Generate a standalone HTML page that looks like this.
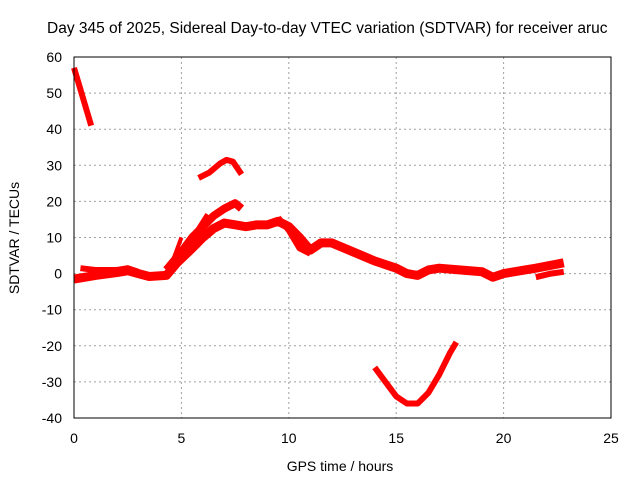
<!DOCTYPE html>
<html><head><meta charset="utf-8"><style>body{margin:0;background:#fff}svg{display:block}text{font-family:"Liberation Sans",sans-serif;font-size:14px;fill:#000}</style></head>
<body>
<svg id="c" width="640" height="480">
<text x="47" y="33" style="font-size:15.5px">Day 345 of 2025, Sidereal Day-to-day VTEC variation (SDTVAR) for receiver aruc</text>
<text x="340" y="471" text-anchor="middle">GPS time / hours</text>
<text transform="translate(19,238) rotate(-90)" text-anchor="middle">SDTVAR / TECUs</text>
<g id="grid"></g><g id="ticks"></g><g id="series"></g>
<rect x="74" y="57" width="537" height="361" fill="none" stroke="#000" stroke-width="1"/>
</svg>
<script>
const xTicks=[0,5,10,15,20,25];
const yTicks=[60,50,40,30,20,10,0,-10,-20,-30,-40];
const seriesA=[[0,57],[0.2,53],[0.5,47],[0.8,41]];
const seriesB=[[5.8,26.5],[6.3,28],[6.8,30.5],[7.1,31.5],[7.4,31],[7.8,27.5]];
const seriesC1=[[0,-1.5],[1,-0.5],[2,0.3],[2.5,0.8],[3,0],[3.5,-0.8],[4.3,-0.5],[4.8,3],[5.5,7],[6,10],[6.5,12.5],[7,14],[7.5,13.5],[8,13],[8.5,13.5],[9,13.5],[9.5,14.5],[10,13],[10.5,10],[11,6.5],[11.5,8.5],[12,8.5],[13,6],[14,3.5],[15,1.5],[15.5,0],[16,-0.5],[16.5,1],[17,1.5],[18,1],[19,0.5],[19.5,-1],[20,0],[21,1],[21.5,1.5],[22.8,3]];
const seriesC2=[[0.3,1.5],[1,1],[2,1],[2.5,1.5],[3,0.5]];
const seriesC3=[[4.3,1],[5,6],[5.5,10],[6,13],[6.5,16],[7,18],[7.5,19.5],[7.8,18]];
const seriesC4=[[4.5,2],[5,10]];
const seriesC5=[[5.3,8],[6.2,16.5]];
const seriesC6=[[9.5,15.5],[10,12],[10.5,7],[11,5.5]];
const seriesC7=[[21.5,-1],[22.2,0],[22.8,0.5]];
const seriesD=[[14,-26],[14.5,-30],[15,-34],[15.5,-36],[16,-36],[16.5,-33],[17,-28],[17.5,-22],[17.8,-19]];
const X=v=>74+v*537/25, Y=v=>57+(60-v)*361/100;
const NS='http://www.w3.org/2000/svg';
const grid=document.getElementById('grid'),ticks=document.getElementById('ticks'),ser=document.getElementById('series');
function mk(t,a,p){const e=document.createElementNS(NS,t);for(const k in a)e.setAttribute(k,a[k]);p.appendChild(e);return e;}
xTicks.forEach(v=>{
 if(v>0&&v<25){const g=mk('line',{x1:X(v),x2:X(v),y1:57,y2:418,stroke:'#a0a0a0','stroke-dasharray':'2,3'},grid);
 
 }
 const t=mk('text',{x:X(v),y:443,'text-anchor':'middle'},ticks);t.textContent=v;
 
 
});
yTicks.forEach(v=>{
 if(v<60&&v>-40){const g=mk('line',{x1:74,x2:611,y1:Y(v),y2:Y(v),stroke:'#a0a0a0','stroke-dasharray':'2,3'},grid);
 
 }
 const t=mk('text',{x:62,y:Y(v)+5,'text-anchor':'end'},ticks);t.textContent=v;
 
 
});
[[seriesA,6],[seriesB,6],[seriesC1,9],[seriesC2,6],[seriesC3,8],[seriesC4,4],[seriesC5,4],[seriesC6,6],[seriesC7,6],[seriesD,6]].forEach(([s,w])=>{
 const p=mk('polyline',{points:s.map(d=>X(d[0])+','+Y(d[1])).join(' '),fill:'none',stroke:'#f00','stroke-width':w,'stroke-linejoin':'round'},ser);
 
 
});
</script>
</body></html>
